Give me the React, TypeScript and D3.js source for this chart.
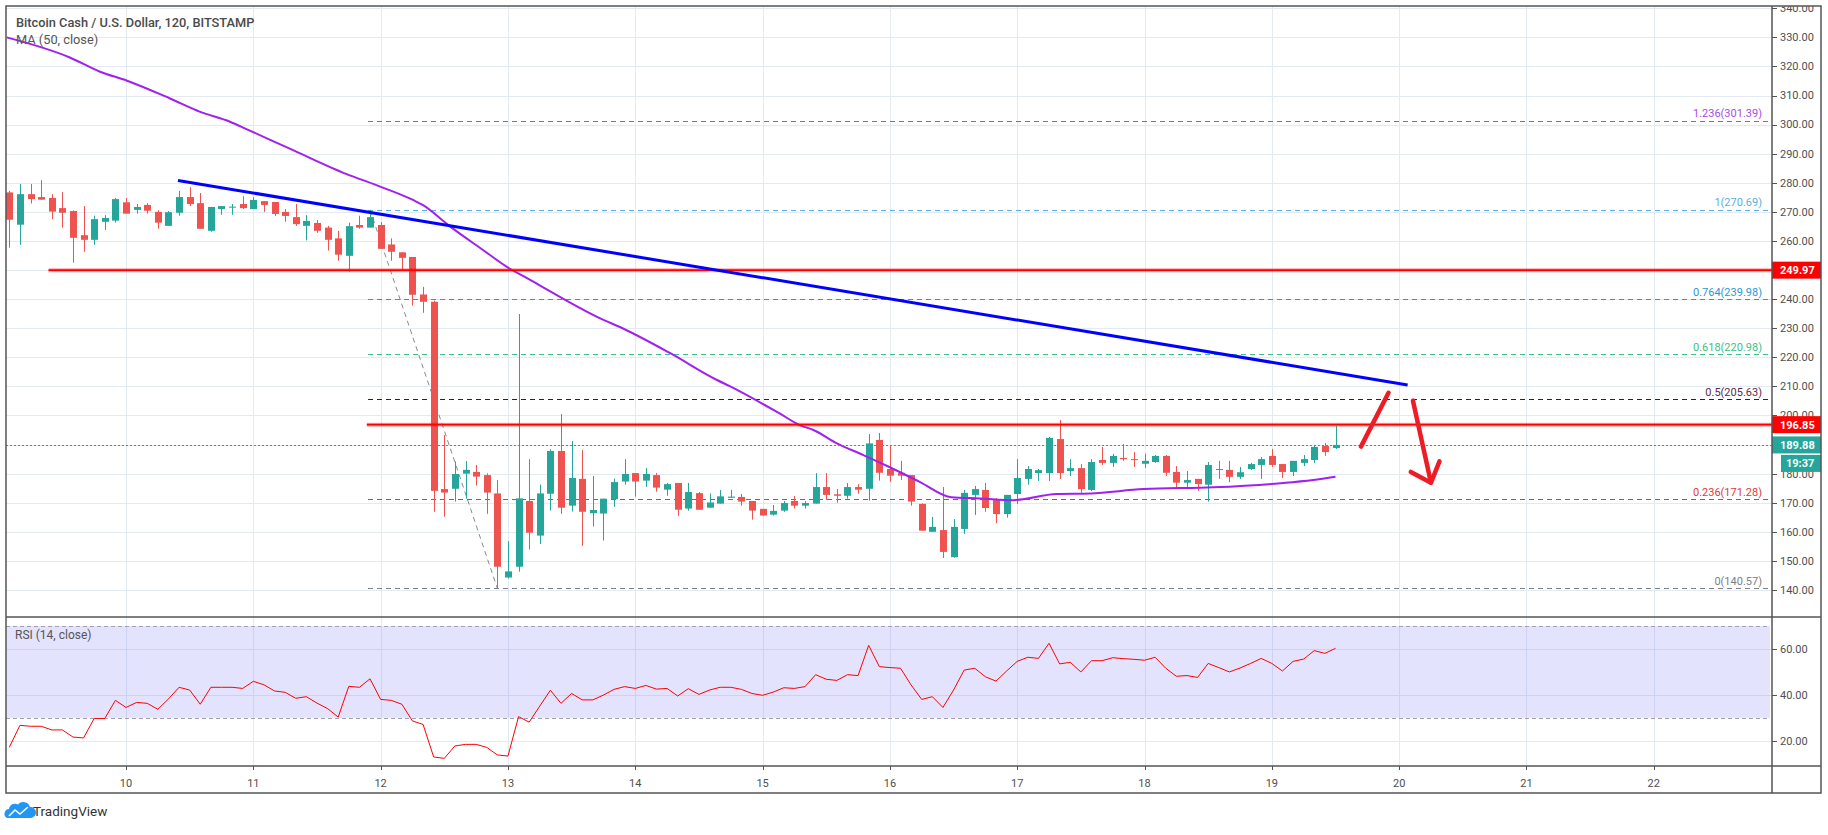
import React, { useEffect, useRef } from 'react';
import * as d3 from 'd3';

// BCHUSD, 2h candles (Bitstamp), first candle 9 Mar 2020 02:00 UTC
const startTime = Date.UTC(2020, 2, 9, 2);

const opens = [
  276.7, 265.6, 276.1, 275.1, 274.8, 271.3, 270.3, 262.0, 260.4, 266.6,
  267.0, 273.3, 270.7, 272.4, 270.0, 265.2, 269.7, 275.1, 273.0, 263.5,
  271.0, 271.5, 272.7, 271.0, 273.7, 273.4, 270.0, 268.2, 265.2, 266.2,
  264.6, 260.9, 254.9, 265.5, 264.6, 265.5, 258.8, 256.1, 254.5, 241.6,
  239.1, 174.7, 174.8, 180.0, 180.6, 179.5, 173.2, 144.3, 148.0, 170.6,
  158.7, 173.1, 187.8, 169.0, 178.2, 166.4, 166.3, 171.2, 177.3, 180.2,
  177.6, 179.5, 174.5, 176.8, 168.0, 173.3, 168.3, 169.7, 171.7, 172.0,
  170.6, 167.9, 165.9, 167.3, 170.6, 169.0, 169.7, 175.4, 172.9, 172.4,
  175.4, 174.8, 191.6, 181.6, 180.3, 179.5, 169.6, 160.0, 160.6, 151.3,
  161.0, 172.7, 174.4, 170.9, 166.1, 173.0, 178.2, 180.2, 180.2, 191.9,
  180.9, 181.9, 174.4, 184.7, 183.7, 185.4, 185.0, 183.4, 184.0, 186.1,
  180.6, 176.9, 178.2, 176.2, 181.6, 181.3, 178.9, 181.6, 183.0, 186.1,
  183.3, 180.6, 183.7, 184.7, 189.5, 188.8,
];
const highs = [
  277.2, 279.6, 279.6, 280.9, 276.1, 276.8, 270.5, 272.0, 268.7, 268.9,
  274.8, 274.8, 272.7, 273.0, 270.6, 270.3, 277.2, 278.5, 276.5, 271.7,
  272.0, 272.7, 275.4, 275.1, 273.7, 273.4, 271.0, 272.7, 268.9, 267.2,
  265.2, 263.5, 266.3, 268.7, 270.69, 266.5, 260.9, 256.1, 254.5, 244.2,
  239.5, 193.3, 184.2, 184.3, 183.0, 180.1, 177.8, 156.8, 234.9, 185.0,
  176.3, 188.4, 200.5, 191.2, 188.1, 179.2, 171.4, 178.3, 185.0, 180.2,
  181.9, 180.2, 176.8, 176.8, 176.8, 173.7, 173.2, 174.4, 174.4, 173.0,
  170.6, 167.9, 169.2, 170.6, 172.3, 170.6, 180.2, 180.2, 174.7, 176.8,
  176.4, 193.6, 194.0, 189.5, 184.4, 179.5, 169.8, 165.1, 175.4, 164.4,
  174.4, 175.8, 176.8, 171.6, 172.7, 185.0, 182.6, 181.6, 192.6, 198.4,
  185.0, 183.3, 185.0, 189.2, 186.8, 190.2, 187.4, 186.8, 186.4, 186.4,
  182.6, 180.9, 178.2, 184.0, 184.4, 184.4, 182.3, 183.7, 185.7, 188.5,
  183.3, 184.4, 186.4, 189.9, 190.5, 196.4,
];
const lows = [
  257.7, 258.7, 272.9, 274.2, 267.5, 264.6, 252.5, 256.3, 258.7, 263.8,
  266.3, 269.4, 269.4, 269.4, 264.2, 265.2, 268.7, 272.0, 264.2, 263.2,
  269.0, 269.0, 271.0, 271.0, 270.0, 268.6, 266.6, 265.2, 260.2, 262.8,
  256.7, 253.2, 249.4, 264.2, 264.6, 257.3, 253.2, 250.2, 237.8, 235.3,
  166.9, 165.2, 170.4, 171.4, 175.9, 166.2, 140.57, 144.0, 146.3, 153.9,
  155.8, 167.3, 166.2, 167.0, 155.2, 161.8, 157.0, 168.6, 176.2, 172.1,
  175.5, 173.8, 172.4, 165.5, 167.3, 167.6, 168.3, 169.7, 171.7, 169.0,
  164.2, 165.6, 165.6, 166.9, 168.0, 168.0, 169.7, 171.0, 170.0, 171.4,
  173.1, 170.7, 177.6, 177.2, 177.8, 169.0, 160.4, 160.0, 151.0, 151.1,
  159.3, 165.8, 166.9, 163.0, 164.9, 169.6, 176.2, 177.5, 177.5, 178.2,
  179.2, 173.4, 174.0, 183.0, 182.3, 184.4, 182.3, 182.0, 183.7, 179.2,
  174.8, 174.8, 174.1, 170.4, 178.2, 177.1, 178.2, 181.3, 178.2, 182.3,
  178.5, 179.2, 182.6, 183.7, 186.1, 188.5,
];
const closes = [
  267.3, 276.1, 274.4, 274.2, 270.1, 269.7, 261.1, 260.4, 267.5, 267.9,
  274.4, 269.4, 271.7, 270.4, 266.3, 269.9, 275.1, 272.7, 264.2, 271.7,
  272.0, 271.8, 271.3, 274.1, 272.4, 269.3, 268.6, 265.8, 266.9, 263.5,
  260.4, 255.3, 265.1, 264.6, 268.2, 257.3, 256.3, 254.2, 241.5, 239.1,
  174.1, 173.5, 179.9, 181.3, 179.0, 173.5, 148.0, 146.4, 171.5, 159.7,
  173.2, 187.8, 168.3, 178.5, 166.9, 167.5, 171.4, 177.1, 179.9, 177.3,
  179.9, 175.2, 176.4, 167.6, 173.7, 167.6, 170.1, 172.2, 172.1, 170.4,
  167.3, 165.6, 167.2, 169.9, 169.0, 169.9, 175.4, 172.7, 172.4, 175.4,
  174.5, 190.4, 180.3, 179.3, 179.3, 170.4, 160.4, 161.7, 153.1, 161.7,
  173.4, 174.7, 168.2, 166.1, 172.7, 178.5, 181.6, 181.2, 192.3, 180.2,
  181.9, 174.7, 184.0, 183.7, 186.1, 185.0, 184.7, 184.4, 186.1, 180.3,
  176.9, 177.8, 176.4, 183.0, 181.3, 178.9, 180.5, 183.3, 185.0, 183.0,
  180.6, 184.4, 185.0, 189.2, 187.4, 189.88,
];

// RSI(14) one value per candle
const rsiValues = [
  17.1, 26.7, 26.3, 26.3, 24.7, 24.7, 21.6, 21.2, 29.7, 29.7,
  37.6, 34.5, 36.7, 36.3, 33.7, 38.2, 43.3, 42.1, 35.9, 43.3,
  43.3, 43.3, 42.8, 45.9, 44.4, 41.7, 41.1, 38.5, 39.2, 36.4,
  34.0, 30.3, 43.7, 43.3, 47.0, 38.0, 37.6, 35.9, 28.6, 27.1,
  12.9, 12.3, 17.7, 18.4, 18.4, 17.1, 13.8, 13.3, 30.5, 28.1,
  35.1, 42.0, 36.3, 40.6, 37.8, 37.8, 39.9, 42.4, 43.6, 42.8,
  44.1, 42.5, 42.8, 39.5, 42.7, 40.2, 42.1, 43.3, 43.3, 42.4,
  40.6, 39.8, 41.2, 43.1, 42.8, 43.6, 48.8, 46.8, 46.3, 48.8,
  48.4, 61.6, 52.3, 51.9, 51.6, 44.3, 38.0, 39.2, 34.5, 42.1,
  50.8, 51.6, 47.9, 46.0, 50.4, 54.6, 56.4, 55.9, 62.5, 53.5,
  54.2, 50.0, 54.9, 54.9, 56.2, 55.8, 55.5, 55.1, 56.4, 51.6,
  48.1, 48.4, 47.6, 53.7, 51.9, 50.0, 51.7, 53.7, 55.9, 53.7,
  50.4, 54.6, 55.6, 59.3, 58.1, 60.3,
];

// MA(50) at its bends (candle index, value)
const maIdx = [
  -0.25, 5.7, 8.55, 11.1, 15.15, 18, 20.8, 22.4, 26.7, 31.8,
  34.6, 38.05, 39, 41.5, 44.65, 46.9, 48.8, 51.6, 55.7, 57.8,
  62.3, 66.7, 67.9, 72.6, 74.5, 75.8, 78, 80.5, 83, 85.8,
  88.8, 91.5, 94.6, 98.7, 101.9, 106.9, 113.5, 119.8, 122.9, 125,
];
const maValues = [
  330.0, 323.1, 318.2, 315.1, 309.0, 304.4, 301.0, 298.4, 291.3, 283.0,
  279.2, 274.1, 272.3, 265.1, 256.9, 251.1, 247.2, 241.4, 233.4, 230.0,
  221.4, 212.2, 210.1, 200.7, 196.7, 195.0, 190.4, 186.4, 182.2, 177.2,
  171.9, 171.5, 170.9, 173.0, 173.2, 174.7, 175.3, 176.7, 177.8, 178.9,
];

// Fibonacci retracement drawn from the 11 Mar high to the 12 Mar low
const fibRatios = ['0', '0.236', '0.5', '0.618', '0.764', '1', '1.236'];
const fibValues = [140.57, 171.28, 205.63, 220.98, 239.98, 270.69, 301.39];
const fibColors = ['#808080', '#e23a3c', '#4f0f2e', '#3cc08a', '#2a98d8', '#5eaee0', '#a64ee6'];
const fibIdx = [34, 46];

// horizontal red levels
const levelValues = [249.97, 196.85];
const levelStartIdx = [3.7, 33.7];

// blue bearish trend line
const trendIdx = [15.9, 131.8];
const trendValues = [280.8, 210.5];

// hand-drawn red arrows
const arrowUpIdx = [127.4, 130.0];
const arrowUpValues = [189.3, 207.8];
const arrowDownIdx = [132.3, 134.0];
const arrowDownValues = [205.1, 176.9];
const arrowHeadIdx = [132.1, 134.0, 134.8];
const arrowHeadValues = [180.6, 176.9, 184.2];

const priceTicks = d3.range(140, 341, 10);
const rsiTicks = [20, 40, 60];
const rsiBand = [30, 70];
const dayTicks = d3.range(10, 23);
const lastPrice = 189.88;
const countdown = '19:37';

const FONT = 'Roboto, "Noto Sans", sans-serif';

export default function App() {
  const ref = useRef<SVGSVGElement>(null);

  useEffect(() => {
    if (!ref.current) return;
    const svg = d3.select(ref.current);
    svg.selectAll('*').remove();

    const L = 6, R = 1772, AR = 1821, T = 6, MB = 617, RB = 766, TB = 793;
    const toTime = (i: number) => new Date(startTime + i * 2 * 3600 * 1000);

    const x = d3.scaleUtc().domain([toTime(0), toTime(125)]).range([9.3, 1335.5]);
    const xi = (i: number) => x(toTime(i));
    const y = d3.scaleLinear().domain([140, 340]).range([590, 8.3]);
    const yr = d3.scaleLinear().domain([20, 60]).range([740.7, 649]);
    const days = dayTicks.map(d => new Date(Date.UTC(2020, 2, d)));

    const defs = svg.append('defs');
    defs.append('clipPath').attr('id', 'clip-main')
      .append('rect').attr('x', L).attr('y', T).attr('width', R - L).attr('height', MB - T);
    defs.append('clipPath').attr('id', 'clip-rsi')
      .append('rect').attr('x', L).attr('y', MB).attr('width', R - L).attr('height', RB - MB);
    defs.append('clipPath').attr('id', 'clip-axis')
      .append('rect').attr('x', R).attr('y', T).attr('width', AR - R).attr('height', MB - T);

    svg.append('rect').attr('width', 1828).attr('height', 835).attr('fill', '#fff');

    // ---------- main pane ----------
    const main = svg.append('g').attr('clip-path', 'url(#clip-main)');
    const gridColor = '#e3eaf1';

    main.append('g').selectAll('line').data(days).join('line')
      .attr('x1', d => Math.round(x(d)) + 0.5).attr('x2', d => Math.round(x(d)) + 0.5)
      .attr('y1', T).attr('y2', MB).attr('stroke', gridColor);
    main.append('g').selectAll('line').data(priceTicks).join('line')
      .attr('x1', L).attr('x2', R)
      .attr('y1', d => Math.round(y(d)) + 0.5).attr('y2', d => Math.round(y(d)) + 0.5)
      .attr('stroke', gridColor);

    // fib levels
    const fibG = main.append('g');
    fibG.selectAll('line').data(fibValues).join('line')
      .attr('x1', xi(fibIdx[0]) - 2).attr('x2', R - 2)
      .attr('y1', d => Math.round(y(d)) + 0.5).attr('y2', d => Math.round(y(d)) + 0.5)
      .attr('stroke', (d, i) => fibColors[i]).attr('stroke-width', 1)
      .attr('stroke-dasharray', '5 4');
    fibG.selectAll('text').data(fibValues).join('text')
      .attr('x', 1762).attr('y', d => y(d) - 3.5)
      .attr('text-anchor', 'end')
      .attr('font-family', FONT).attr('font-size', 11)
      .attr('fill', (d, i) => fibColors[i] === '#4f0f2e' ? '#5e2a45' : fibColors[i])
      .text((d, i) => `${fibRatios[i]}(${d.toFixed(2)})`);
    fibG.append('line')
      .attr('x1', xi(fibIdx[0])).attr('y1', y(fibValues[5]))
      .attr('x2', xi(fibIdx[1])).attr('y2', y(fibValues[0]))
      .attr('stroke', '#8a8a8a').attr('stroke-width', 1).attr('stroke-dasharray', '5 4');

    // candles
    const candles = opens.map((o, i) => ({ i, o, h: highs[i], l: lows[i], c: closes[i] }));
    const up = '#26a69a', down = '#ef5350';
    const cg = main.append('g');
    cg.selectAll('line').data(candles).join('line')
      .attr('x1', d => Math.round(xi(d.i)) + 0.5).attr('x2', d => Math.round(xi(d.i)) + 0.5)
      .attr('y1', d => y(d.h)).attr('y2', d => y(d.l))
      .attr('stroke', d => (d.c >= d.o ? up : down)).attr('stroke-width', 1);
    cg.selectAll('rect').data(candles).join('rect')
      .attr('x', d => Math.round(xi(d.i)) - 3)
      .attr('width', 7)
      .attr('y', d => y(Math.max(d.o, d.c)))
      .attr('height', d => Math.max(1, Math.abs(y(d.o) - y(d.c))))
      .attr('fill', d => (d.c >= d.o ? up : down));

    // MA(50)
    const maPts = maIdx.map((d, i) => [xi(d), y(maValues[i])] as [number, number]);
    main.append('path').datum(maPts)
      .attr('d', d3.line().curve(d3.curveMonotoneX))
      .attr('fill', 'none').attr('stroke', '#a020f0').attr('stroke-width', 2);

    // last price dotted line
    main.append('line')
      .attr('x1', L).attr('x2', R)
      .attr('y1', Math.round(y(lastPrice)) + 0.5).attr('y2', Math.round(y(lastPrice)) + 0.5)
      .attr('stroke', up).attr('stroke-width', 1).attr('stroke-dasharray', '2 2');

    // red horizontal levels
    levelValues.forEach((v, i) => {
      main.append('line')
        .attr('x1', xi(levelStartIdx[i])).attr('x2', R)
        .attr('y1', y(v)).attr('y2', y(v))
        .attr('stroke', 'rgba(255,0,0,0.35)').attr('stroke-width', 4);
      main.append('line')
        .attr('x1', xi(levelStartIdx[i])).attr('x2', R)
        .attr('y1', y(v)).attr('y2', y(v))
        .attr('stroke', '#ff0000').attr('stroke-width', 1.6);
    });

    // trend line
    main.append('line')
      .attr('x1', xi(trendIdx[0])).attr('y1', y(trendValues[0]))
      .attr('x2', xi(trendIdx[1])).attr('y2', y(trendValues[1]))
      .attr('stroke', '#0000ff').attr('stroke-width', 3);

    // arrows
    const pathOf = (idx: number[], vals: number[]) =>
      d3.line()(idx.map((d, i) => [xi(d), y(vals[i])] as [number, number]));
    [
      pathOf(arrowUpIdx, arrowUpValues),
      pathOf(arrowDownIdx, arrowDownValues),
      pathOf(arrowHeadIdx, arrowHeadValues),
    ].forEach(p => {
      main.append('path').attr('d', p)
        .attr('fill', 'none').attr('stroke', '#ee1c25').attr('stroke-width', 4.5)
        .attr('stroke-linecap', 'round').attr('stroke-linejoin', 'round');
    });

    // legend
    svg.append('text').attr('x', 16).attr('y', 26.5)
      .attr('font-family', FONT).attr('font-size', 12.8).attr('font-weight', 500)
      .attr('fill', '#4a4a4a').text('Bitcoin Cash / U.S. Dollar, 120, BITSTAMP');
    svg.append('text').attr('x', 16).attr('y', 44)
      .attr('font-family', FONT).attr('font-size', 12.8)
      .attr('fill', '#555').text('MA (50, close)');

    // ---------- RSI pane ----------
    const rsi = svg.append('g').attr('clip-path', 'url(#clip-rsi)');
    rsi.append('g').selectAll('line').data(days).join('line')
      .attr('x1', d => Math.round(x(d)) + 0.5).attr('x2', d => Math.round(x(d)) + 0.5)
      .attr('y1', MB).attr('y2', RB).attr('stroke', gridColor);
    rsi.append('g').selectAll('line').data(rsiTicks).join('line')
      .attr('x1', L).attr('x2', R)
      .attr('y1', d => Math.round(yr(d)) + 0.5).attr('y2', d => Math.round(yr(d)) + 0.5)
      .attr('stroke', gridColor);
    rsi.append('rect')
      .attr('x', L).attr('width', R - 2 - L)
      .attr('y', yr(rsiBand[1])).attr('height', yr(rsiBand[0]) - yr(rsiBand[1]))
      .attr('fill', 'rgba(126,126,244,0.22)');
    rsi.append('g').selectAll('line').data(rsiBand).join('line')
      .attr('x1', L).attr('x2', R - 2)
      .attr('y1', d => Math.round(yr(d)) + 0.5).attr('y2', d => Math.round(yr(d)) + 0.5)
      .attr('stroke', '#a29fb5').attr('stroke-dasharray', '4 3');
    rsi.append('path').datum(rsiValues.map((v, i) => [xi(i), yr(v)] as [number, number]))
      .attr('d', d3.line())
      .attr('fill', 'none').attr('stroke', '#ff0000').attr('stroke-width', 1);
    svg.append('text').attr('x', 15).attr('y', 639)
      .attr('font-family', FONT).attr('font-size', 12)
      .attr('fill', '#555').text('RSI (14, close)');

    // ---------- price axis ----------
    const axis = svg.append('g').attr('clip-path', 'url(#clip-axis)');
    axis.selectAll('line').data(priceTicks).join('line')
      .attr('x1', R).attr('x2', R + 5)
      .attr('y1', d => Math.round(y(d)) + 0.5).attr('y2', d => Math.round(y(d)) + 0.5)
      .attr('stroke', '#555');
    axis.selectAll('text').data(priceTicks).join('text')
      .attr('x', R + 8).attr('y', d => y(d)).attr('dy', '0.35em')
      .attr('font-family', FONT).attr('font-size', 11).attr('fill', '#4f4f4f')
      .text(d => d.toFixed(2));

    const tag = (v: number, fill: string, label: string, x0: number, dyc: number) => {
      axis.append('rect').attr('x', x0).attr('width', AR - x0)
        .attr('y', y(v) + dyc - 8.5).attr('height', 17).attr('fill', fill);
      axis.append('text').attr('x', x0 === R ? R + 8 : x0 + 5).attr('y', y(v) + dyc).attr('dy', '0.35em')
        .attr('font-family', FONT).attr('font-size', 11).attr('font-weight', 700)
        .attr('fill', '#fff').text(label);
    };
    levelValues.forEach(v => tag(v, '#ff0000', v.toFixed(2), R, 0));
    tag(lastPrice, up, lastPrice.toFixed(2), R, 0);
    tag(lastPrice, up, countdown, R + 9, 18.5);

    // RSI axis
    svg.append('g').selectAll('line').data(rsiTicks).join('line')
      .attr('x1', R).attr('x2', R + 5)
      .attr('y1', d => Math.round(yr(d)) + 0.5).attr('y2', d => Math.round(yr(d)) + 0.5)
      .attr('stroke', '#555');
    svg.append('g').selectAll('text').data(rsiTicks).join('text')
      .attr('x', R + 8).attr('y', d => yr(d)).attr('dy', '0.35em')
      .attr('font-family', FONT).attr('font-size', 11).attr('fill', '#4f4f4f')
      .text(d => d.toFixed(2));

    // time axis
    svg.append('g').selectAll('line').data(days).join('line')
      .attr('x1', d => Math.round(x(d)) + 0.5).attr('x2', d => Math.round(x(d)) + 0.5)
      .attr('y1', RB).attr('y2', RB + 4).attr('stroke', '#555');
    svg.append('g').selectAll('text').data(days).join('text')
      .attr('x', d => x(d)).attr('y', 787)
      .attr('text-anchor', 'middle')
      .attr('font-family', FONT).attr('font-size', 11).attr('fill', '#4f4f4f')
      .text(d => d3.utcFormat('%-d')(d));

    // frame
    const frame = svg.append('g').attr('fill', 'none').attr('stroke', '#555').attr('stroke-width', 1.5);
    frame.append('rect').attr('x', L).attr('y', T).attr('width', AR - L).attr('height', TB - T);
    frame.append('line').attr('x1', R).attr('x2', R).attr('y1', T).attr('y2', TB);
    frame.append('line').attr('x1', L).attr('x2', AR).attr('y1', MB).attr('y2', MB);
    frame.append('line').attr('x1', L).attr('x2', AR).attr('y1', RB).attr('y2', RB);

    // TradingView logo
    const logo = svg.append('g');
    logo.append('path')
      .attr('d', 'M7,818 L31,818 A5.5,5.5 0 0 0 30,807 A7,7 0 0 0 18,804.5 A6,6 0 0 0 9,809 A4.8,4.8 0 0 0 7,818 Z')
      .attr('fill', '#2196f3');
    logo.append('path')
      .attr('d', 'M9,816 L15,810 L20,814 L28,807')
      .attr('fill', 'none').attr('stroke', '#fff').attr('stroke-width', 1.6);
    logo.append('text').attr('x', 33).attr('y', 816)
      .attr('font-family', FONT).attr('font-size', 13.5).attr('fill', '#333')
      .text('TradingView');
  }, []);

  return (
    <div style={{ position: 'absolute', left: 0, top: 0 }}>
      <svg ref={ref} width={1828} height={835} style={{ display: 'block' }} />
    </div>
  );
}
